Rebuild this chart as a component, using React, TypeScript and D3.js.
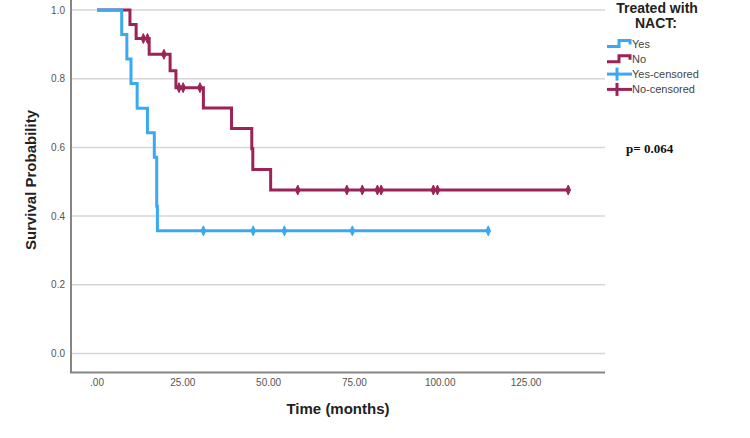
import * as d3 from 'd3'
import React, { useEffect, useRef } from 'react'

// Kaplan-Meier steps, group treated with NACT
const yesTimes = [7.2, 8.7, 9.9, 11.7, 14.7, 16.7, 17.4, 17.6]
const yesSurvival = [0.929, 0.857, 0.786, 0.714, 0.643, 0.571, 0.429, 0.357]
const yesCensored = [31.0, 45.5, 54.6, 74.4, 114.0]

// group not treated with NACT
const noTimes = [9.6, 11.4, 15.2, 21.3, 23.0, 31.0, 39.2, 45.1, 45.4, 50.6]
const noSurvival = [0.958, 0.917, 0.871, 0.823, 0.774, 0.715, 0.655, 0.596, 0.536, 0.476]
const noCensored = [13.5, 14.7, 19.5, 23.9, 25.1, 30.0, 58.5, 72.8, 77.3, 81.7, 82.8, 98.0, 99.2, 137.3]

const xTicks = [0, 25, 50, 75, 100, 125]
const yTicks = [0, 0.2, 0.4, 0.6, 0.8, 1.0]
const legendLabels = ['Yes', 'No', 'Yes-censored', 'No-censored']
const pValue = 'p= 0.064'

const BLUE = '#3aa9f2'
const MAROON = '#9b2356'
const SANS = '"Liberation Sans", Arial, sans-serif'

const x = d3.scaleLinear().domain([0, 125]).range([97, 526])
const y = d3.scaleLinear().domain([0, 1]).range([353.5, 10])
const axisLeft = 71
const axisRight = 605
const axisBottom = 372.5

type pt = [number, number]

// survival value in effect at time t
const survAt = (times: number[], surv: number[], t: number) => {
    let s = 1
    times.forEach((tt, i) => { if (tt <= t) s = surv[i] })
    return s
}

const stepPoints = (times: number[], surv: number[], censored: number[]): pt[] => {
    const pts: pt[] = [[0, 1]]
    times.forEach((t, i) => pts.push([t, surv[i]]))
    const end = Math.max(d3.max(censored) || 0, d3.max(times) || 0)
    pts.push([end, surv[surv.length - 1]])
    return pts
}

const line = d3.line<pt>()
    .x(d => x(d[0]))
    .y(d => y(d[1]))
    .curve(d3.curveStepAfter)

const diamond = (cx: number, cy: number) =>
    `M${cx},${cy - 5}L${cx + 2.3},${cy}L${cx},${cy + 5}L${cx - 2.3},${cy}Z`

export default function App() {
    const ref = useRef<SVGSVGElement>(null)

    useEffect(() => {
        const svg = d3.select(ref.current)
        svg.selectAll('*').remove()

        // grid
        svg.append('g')
            .selectAll('line')
            .data(yTicks)
            .join('line')
            .attr('x1', axisLeft)
            .attr('x2', axisRight)
            .attr('y1', d => y(d))
            .attr('y2', d => y(d))
            .attr('stroke', '#d6d6d6')
            .attr('stroke-width', 1.5)

        // axes
        svg.append('line')
            .attr('x1', axisLeft).attr('x2', axisLeft)
            .attr('y1', 0).attr('y2', axisBottom)
            .attr('stroke', '#858585').attr('stroke-width', 2)
        svg.append('line')
            .attr('x1', axisLeft - 1).attr('x2', axisRight)
            .attr('y1', axisBottom).attr('y2', axisBottom)
            .attr('stroke', '#858585').attr('stroke-width', 2)

        svg.append('g')
            .selectAll('text')
            .data(xTicks)
            .join('text')
            .attr('x', d => x(d))
            .attr('y', 386)
            .attr('text-anchor', 'middle')
            .attr('font-family', SANS)
            .attr('font-size', 10)
            .attr('fill', '#555')
            .text(d => d === 0 ? '.00' : d3.format('.2f')(d))

        svg.append('g')
            .selectAll('text')
            .data(yTicks)
            .join('text')
            .attr('x', 65)
            .attr('y', d => y(d) + 3.5)
            .attr('text-anchor', 'end')
            .attr('font-family', SANS)
            .attr('font-size', 10)
            .attr('fill', '#555')
            .text(d => d3.format('.1f')(d))

        svg.append('text')
            .attr('x', 338)
            .attr('y', 414)
            .attr('text-anchor', 'middle')
            .attr('font-family', SANS)
            .attr('font-size', 15)
            .attr('font-weight', 'bold')
            .attr('fill', '#222')
            .text('Time (months)')

        svg.append('text')
            .attr('transform', 'translate(36 180) rotate(-90)')
            .attr('text-anchor', 'middle')
            .attr('font-family', SANS)
            .attr('font-size', 15)
            .attr('font-weight', 'bold')
            .attr('fill', '#222')
            .text('Survival Probability')

        // curves
        const groups = [
            { times: noTimes, surv: noSurvival, cens: noCensored, color: MAROON },
            { times: yesTimes, surv: yesSurvival, cens: yesCensored, color: BLUE },
        ]
        groups.forEach(g => {
            svg.append('path')
                .attr('d', line(stepPoints(g.times, g.surv, g.cens)))
                .attr('fill', 'none')
                .attr('stroke', g.color)
                .attr('stroke-width', 3)
                .attr('stroke-linejoin', 'miter')
            svg.append('g')
                .selectAll('path')
                .data(g.cens)
                .join('path')
                .attr('d', t => diamond(x(t), y(survAt(g.times, g.surv, t))))
                .attr('fill', g.color)
                .attr('stroke', g.color)
                .attr('stroke-width', 1)
        })

        // legend
        const legend = svg.append('g')
        legend.append('text')
            .attr('x', 657)
            .attr('y', 13)
            .attr('text-anchor', 'middle')
            .attr('font-family', SANS)
            .attr('font-size', 14)
            .attr('font-weight', 'bold')
            .attr('fill', '#222')
            .text('Treated with')
        legend.append('text')
            .attr('x', 656)
            .attr('y', 28)
            .attr('text-anchor', 'middle')
            .attr('font-family', SANS)
            .attr('font-size', 14)
            .attr('font-weight', 'bold')
            .attr('fill', '#222')
            .text('NACT:')

        const rowY = (i: number) => 43.5 + i * 15.3
        legendLabels.forEach((label, i) => {
            const cy = rowY(i)
            const color = i % 2 === 0 ? BLUE : MAROON
            if (i < 2) {
                legend.append('path')
                    .attr('d', `M607,${cy + 3}H619V${cy - 3}H630V${cy + 1}`)
                    .attr('fill', 'none')
                    .attr('stroke', color)
                    .attr('stroke-width', 3)
            } else {
                legend.append('line')
                    .attr('x1', 607).attr('x2', 632)
                    .attr('y1', cy).attr('y2', cy)
                    .attr('stroke', color).attr('stroke-width', 3)
                legend.append('line')
                    .attr('x1', 617).attr('x2', 617)
                    .attr('y1', cy - 6.5).attr('y2', cy + 6.5)
                    .attr('stroke', color).attr('stroke-width', 3)
            }
            legend.append('text')
                .attr('x', 632)
                .attr('y', cy + 4)
                .attr('font-family', SANS)
                .attr('font-size', 11)
                .attr('fill', '#444')
                .text(label)
        })

        svg.append('text')
            .attr('x', 626)
            .attr('y', 153)
            .attr('font-family', '"Liberation Serif", "Times New Roman", serif')
            .attr('font-size', 13)
            .attr('font-weight', 'bold')
            .attr('fill', '#111')
            .text(pValue)
    }, [])

    return (
        <svg
            ref={ref}
            width={750}
            height={438}
            viewBox="0 0 750 438"
            style={{ position: 'absolute', left: 0, top: 0, background: '#fff' }}
        />
    )
}
